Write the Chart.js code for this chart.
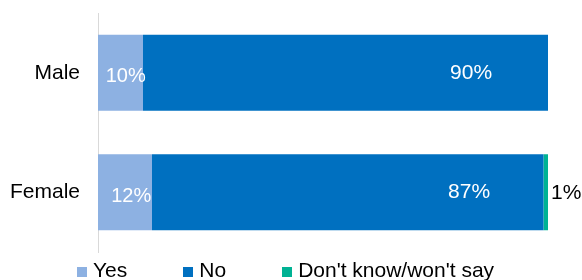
<!DOCTYPE html>
<html>
<head>
<meta charset="utf-8">
<script src="https://cdn.jsdelivr.net/npm/chart.js@4/dist/chart.umd.min.js"></script>
<style>
  html, body { margin: 0; padding: 0; background: #fff; overflow: hidden; }
  #wrap { position: relative; width: 582px; height: 280px; }
  #legend { position: absolute; left: 77px; top: 258px; font: 21px "Liberation Sans", Arial, sans-serif; color: #000; white-space: nowrap; display: flex; }
  #legend .item { display: flex; align-items: center; margin-right: 56px; }
  #legend .box { width: 10px; height: 10px; margin-right: 6px; margin-top: 3px; }
</style>
</head>
<body>
<div id="wrap">
  <canvas id="chart" width="582" height="280"></canvas>
  <div id="legend"></div>
</div>
<script>
// chart data
const categories = ["Male", "Female"];
const seriesNames = ["Yes", "No", "Don't know/won't say"];
const yesValues = [10, 12];
const noValues = [90, 87];
const dkValues = [0, 1];
const seriesColors = ["#8DB1E2", "#0070C0", "#00B294"];

const FONT = "'Liberation Sans', Arial, sans-serif";

// labels drawn on/next to the bars
const barLabels = {
  id: "barLabels",
  afterDatasetsDraw(chart) {
    const ctx = chart.ctx;
    ctx.save();
    ctx.textBaseline = "middle";
    chart.data.datasets.forEach(function(ds, i) {
      const meta = chart.getDatasetMeta(i);
      meta.data.forEach(function(bar, j) {
        const v = ds.data[j];
        if (!v) return;
        const left = Math.min(bar.x, bar.base);
        const right = Math.max(bar.x, bar.base);
        if (i == 2) {
          // small segment, label outside
          ctx.fillStyle = "#000";
          ctx.textAlign = "left";
          ctx.font = "21px " + FONT;
          ctx.fillText(v + "%", right + 3, bar.y + 1);
        } else if (i == 0) {
          ctx.fillStyle = "#fff";
          ctx.textAlign = "center";
          ctx.font = "20px " + FONT;
          ctx.fillText(v + "%", left + (right - left) * 0.615, bar.y + 4);
        } else {
          ctx.fillStyle = "#fff";
          ctx.textAlign = "center";
          ctx.font = "21px " + FONT;
          ctx.fillText(v + "%", left + (right - left) * 0.81, bar.y);
        }
      });
    });
    ctx.restore();
  }
};

const seriesData = [yesValues, noValues, dkValues];

new Chart(document.getElementById("chart"), {
  type: "bar",
  data: {
    labels: categories,
    datasets: seriesNames.map(function(name, i) {
      return {
        label: name,
        data: seriesData[i],
        backgroundColor: seriesColors[i],
        borderWidth: 0,
        barPercentage: 0.636,
        categoryPercentage: 1
      };
    })
  },
  options: {
    indexAxis: "y",
    responsive: false,
    animation: false,
    layout: { padding: { left: 0, right: 34, top: 13, bottom: 28 } },
    plugins: { legend: { display: false }, tooltip: { enabled: false } },
    scales: {
      x: { stacked: true, min: 0, max: 100, display: false },
      y: {
        stacked: true,
        grid: { display: false, drawTicks: false },
        border: { display: true, color: "#D9D9D9", width: 1 },
        ticks: { color: "#000", font: { family: FONT, size: 21 }, padding: 18 },
        afterFit: function(scale) {
          scale.width = 98;
          scale.paddingTop = 0;
          scale.paddingBottom = 0;
        }
      }
    }
  },
  plugins: [barLabels]
});

// legend as html
const legendDiv = document.getElementById("legend");
seriesNames.forEach(function(name, i) {
  const item = document.createElement("div");
  item.className = "item";
  const box = document.createElement("span");
  box.className = "box";
  box.style.background = seriesColors[i];
  const txt = document.createElement("span");
  txt.textContent = name;
  item.appendChild(box);
  item.appendChild(txt);
  legendDiv.appendChild(item);
});
</script>
</body>
</html>
